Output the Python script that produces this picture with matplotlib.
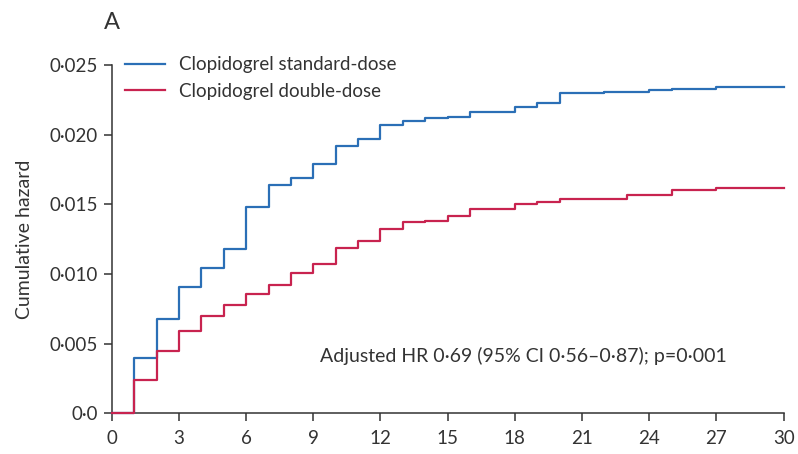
import matplotlib.pyplot as plt
import numpy as np

# cumulative hazard by month (value held from month i to i+1)
months = list(range(0, 31))
standard_dose = [0.0, 0.0040, 0.00675, 0.0091, 0.0104, 0.0118, 0.0148, 0.0164, 0.0169, 0.0179,
                 0.0192, 0.0197, 0.0207, 0.0210, 0.0212, 0.0213, 0.0216, 0.02165, 0.0220, 0.0223,
                 0.0230, 0.0230, 0.02305, 0.02305, 0.0232, 0.0233, 0.0233, 0.02345, 0.02345, 0.02345]
double_dose = [0.0, 0.0024, 0.0045, 0.0059, 0.0070, 0.0078, 0.0086, 0.0092, 0.0101, 0.0107,
               0.0119, 0.0124, 0.0132, 0.0137, 0.0138, 0.0142, 0.0147, 0.0147, 0.0150, 0.01515,
               0.0154, 0.0154, 0.0154, 0.0157, 0.0157, 0.0160, 0.0160, 0.0162, 0.0162, 0.0162]
series_labels = ["Clopidogrel standard-dose", "Clopidogrel double-dose"]
x_ticks = list(range(0, 31, 3))
y_ticks = [0.0, 0.005, 0.010, 0.015, 0.020, 0.025]
y_ticklabels = ["0\u00b70", "0\u00b7005", "0\u00b7010", "0\u00b7015", "0\u00b7020", "0\u00b7025"]
annotation = "Adjusted HR 0\u00b769 (95% CI 0\u00b756\u20130\u00b787); p=0\u00b7001"

BLUE = "#2b6fb6"
RED = "#c8234f"
INK = "#333333"

plt.rcParams['font.family'] = ['Lato', 'DejaVu Sans']
plt.rcParams['text.color'] = INK

fig = plt.figure(figsize=(7.98, 4.54), dpi=100)
ax = fig.add_axes([0.14, 0.0896, 0.842, 0.767])


def extend(vals):
    # repeat last value so the step runs to the final month
    return list(vals) + [vals[-1]]


ax.step(months, extend(standard_dose), where='post', color=BLUE, lw=1.6,
        label=series_labels[0], clip_on=False, zorder=3)
ax.step(months, extend(double_dose), where='post', color=RED, lw=1.6,
        label=series_labels[1], clip_on=False, zorder=4)

ax.set_xlim(0, 30)
ax.set_ylim(0, 0.025)
ax.set_xticks(x_ticks)
ax.set_xticklabels([str(t) for t in x_ticks])
ax.set_yticks(y_ticks)
ax.set_yticklabels(y_ticklabels)

for side in ['top', 'right']:
    ax.spines[side].set_visible(False)
for side in ['left', 'bottom']:
    ax.spines[side].set_color(INK)
    ax.spines[side].set_linewidth(1.1)

ax.tick_params(direction='out', length=6, width=1.1, color=INK, labelcolor=INK,
               labelsize=13.5)
ax.tick_params(axis='x', pad=6)
ax.tick_params(axis='y', pad=4)

ax.set_ylabel("Cumulative hazard", fontsize=14, color=INK, labelpad=12)

ax.text(9.3, 0.0041, annotation, fontsize=14, color=INK, va='center', ha='left')

leg = ax.legend(loc='upper left', bbox_to_anchor=(0.02, 1.025), frameon=False,
                fontsize=13.5, handlelength=2.15, handletextpad=0.7, labelspacing=0.5,
                borderaxespad=0, borderpad=0)
for t in leg.get_texts():
    t.set_color(INK)

fig.text(0.13, 0.95, "A", fontsize=17, color=INK, ha='left', va='center')

fig.savefig("out.png", dpi=100)
